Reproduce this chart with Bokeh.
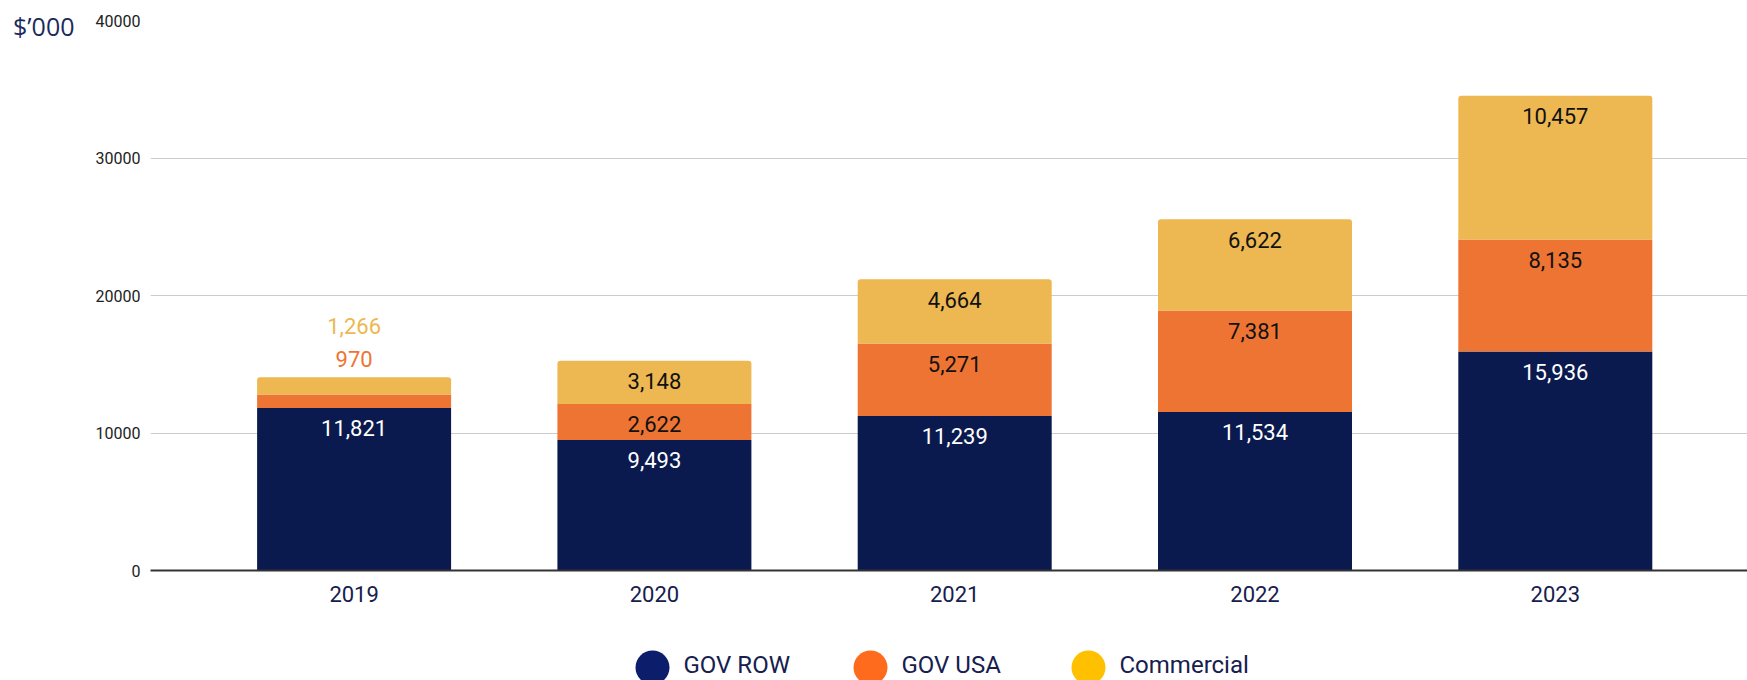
from bokeh.plotting import figure
from bokeh.models import Range1d, LinearAxis, FixedTicker
from bokeh.layouts import column
from bokeh.core.properties import value
from bokeh.embed import file_html
from bokeh.resources import INLINE

# ---- data ----
years = ["2019", "2020", "2021", "2022", "2023"]
gov_row = [11821, 9493, 11239, 11534, 15936]
gov_usa = [970, 2622, 5271, 7381, 8135]
commercial = [1266, 3148, 4664, 6622, 10457]
series_names = ["GOV ROW", "GOV USA", "Commercial"]
y_ticks = [0, 10000, 20000, 30000, 40000]
unit_label = "$’000"

# ---- styles ----
BAR_COLORS = ["#0a1a4e", "#ee7433", "#edb851"]
LEGEND_COLORS = ["#0c1d6c", "#ff6b1c", "#ffc000"]
INSIDE_TEXT = ["#ffffff", "#111111", "#111111"]
NAVY_TEXT = "#16204e"

W = 1747
H = 636
p = figure(width=W, height=H, output_backend="svg", toolbar_location=None,
           x_range=Range1d(-0.678, 4.640), y_range=Range1d(0, 40000),
           min_border_left=150, min_border_right=0, min_border_top=20,
           min_border_bottom=66)
p.outline_line_color = None
p.background_fill_color = "white"
p.border_fill_color = "white"

xs = list(range(len(years)))
series = [gov_row, gov_usa, commercial]
bottom = [0] * len(years)
tops = []
for i, vals in enumerate(series):
    top = [b + v for b, v in zip(bottom, vals)]
    kw = {}
    if i == len(series) - 1:
        kw["border_radius"] = (3, 3, 0, 0)
    p.vbar(x=xs, bottom=bottom, top=top, width=0.646,
           fill_color=BAR_COLORS[i], line_color=None, **kw)
    tops.append(top)
    bottom = top

totals = bottom

# data labels
lx, ly, lt, loff, lc = [], [], [], [], []
outside_count = [0] * len(years)
for i, vals in enumerate(series):
    for j, v in enumerate(vals):
        lx.append(xs[j])
        lt.append(f"{v:,}")
        if v < 1500:
            k = outside_count[j]
            outside_count[j] += 1
            ly.append(totals[j])
            loff.append(-18 - 33 * k)
            lc.append(BAR_COLORS[i])
        else:
            ly.append(tops[i][j])
            loff.append(20.5)
            lc.append(INSIDE_TEXT[i])

p.text(x=lx, y=ly, text=lt, y_offset=loff, text_color=lc,
       text_align="center", text_baseline="middle",
       text_font=value("Roboto"), text_font_size="22px")

# axes
p.xaxis.ticker = xs
p.xaxis.major_label_overrides = {i: y for i, y in enumerate(years)}
p.xaxis.major_tick_line_color = None
p.xaxis.minor_tick_line_color = None
p.xaxis.axis_line_color = "#333333"
p.xaxis.axis_line_width = 2
p.xaxis.major_label_standoff = 9
p.xaxis.major_label_text_font = "Roboto"
p.xaxis.major_label_text_font_size = "22px"
p.xaxis.major_label_text_color = NAVY_TEXT

p.yaxis.ticker = y_ticks
p.yaxis.major_label_overrides = {v: str(v) for v in y_ticks}
p.yaxis.axis_line_color = None
p.yaxis.major_tick_line_color = None
p.yaxis.minor_tick_line_color = None
p.yaxis.major_label_standoff = 4
p.yaxis.major_label_text_font = "Roboto"
p.yaxis.major_label_text_font_size = "16px"
p.yaxis.major_label_text_color = "#222222"

p.xgrid.grid_line_color = None
p.ygrid.ticker = y_ticks
p.ygrid.grid_line_color = "#cccccc"
p.ygrid.grid_line_width = 1

# unit label as an extra left axis whose range is in frame pixels
p.extra_y_ranges = {"unit": Range1d(0, 550)}
unit_axis = LinearAxis(y_range_name="unit", ticker=FixedTicker(ticks=[545]),
                       major_label_overrides={545: unit_label})
unit_axis.axis_line_color = None
unit_axis.major_tick_line_color = None
unit_axis.minor_tick_line_color = None
unit_axis.major_label_standoff = 12
unit_axis.major_label_text_font = "Open Sans"
unit_axis.major_label_text_font_size = "25px"
unit_axis.major_label_text_color = "#1b2a5e"
p.add_layout(unit_axis, "left")

# ---- legend strip ----
LH = 44
lf = figure(width=W, height=LH, output_backend="svg", toolbar_location=None,
            x_axis_type=None, y_axis_type=None,
            x_range=Range1d(150, W), y_range=Range1d(0, LH),
            min_border_left=150, min_border_right=0, min_border_top=0,
            min_border_bottom=0)
lf.grid.visible = False
lf.outline_line_color = None
lf.border_fill_color = "white"
lf.background_fill_color = "white"
leg_x0 = 652
leg_step = 218
cx = [leg_x0 + k * leg_step for k in range(len(series_names))]
lf.scatter(x=cx, y=[13] * len(cx), size=34, fill_color=LEGEND_COLORS,
           line_color=None)
lf.text(x=[c + 31 for c in cx], y=[16] * len(cx), text=series_names,
        text_color=NAVY_TEXT, text_baseline="middle", text_align="left",
        text_font=value("Roboto"), text_font_size="24px")

layout = column(p, lf, spacing=0)
open("out.html", "w").write(file_html(layout, INLINE))
